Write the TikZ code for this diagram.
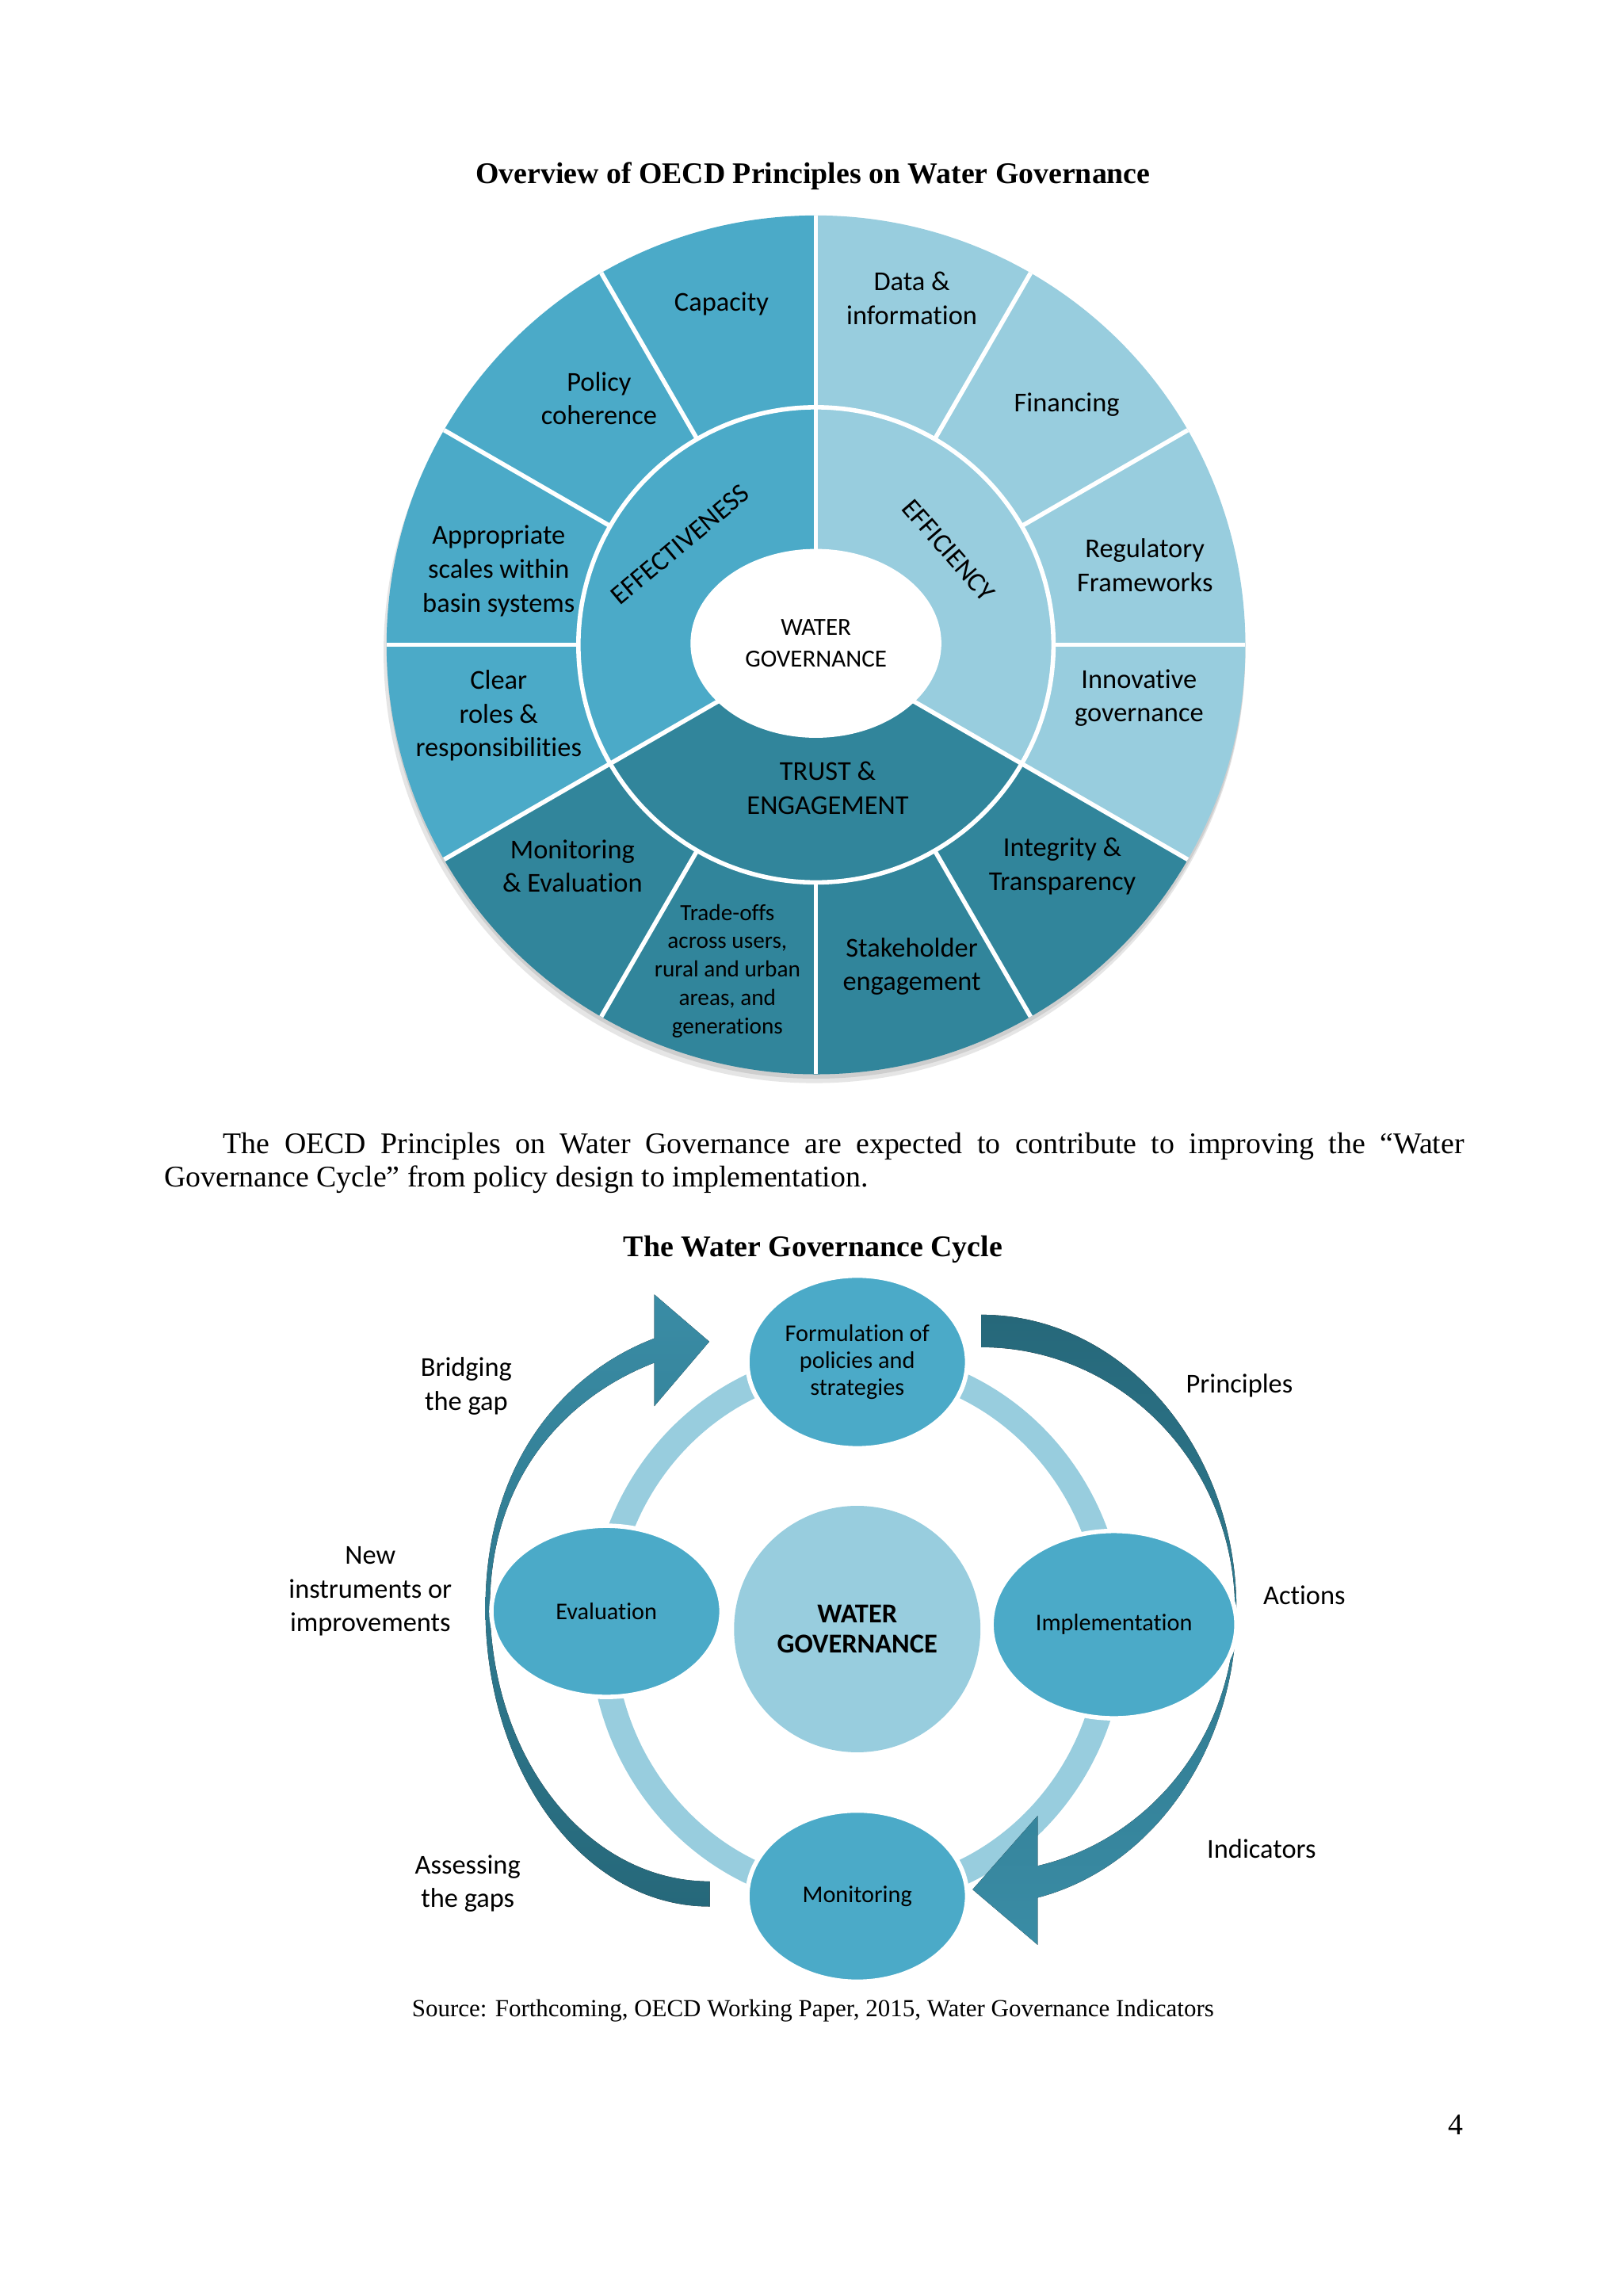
\documentclass[tikz,border=0pt]{standalone}
\usepackage{fontspec}
\setmainfont{Liberation Serif}
\newfontfamily\calib[Ligatures=NoCommon]{Carlito}
\usetikzlibrary{shapes.geometric}
\newdimen\pxu
\pxu=0.54116pt
\definecolor{medblue}{RGB}{75,170,200}
\definecolor{lightblue}{RGB}{152,205,222}
\definecolor{darkteal}{RGB}{49,133,155}
\definecolor{arrdark}{RGB}{38,104,122}
\definecolor{arrlight}{RGB}{58,140,165}
\tikzset{
  sep/.style={white, line width=3*\pxu},
  lab/.style={font=\calib\fontsize{10}{12.4}\selectfont, align=center, inner sep=0pt},
  smalllab/.style={font=\calib\fontsize{8.5}{10.4}\selectfont, align=center, inner sep=0pt},
  cyc/.style={ellipse, fill=medblue, draw=white, line width=3*\pxu, inner sep=0pt, align=center, font=\calib\fontsize{8.8}{9.8}\selectfont},
  bodytext/.style={font=\fontsize{11}{12.6}\selectfont, inner sep=0pt},
  boldtitle/.style={font=\bfseries\fontsize{11}{12.6}\selectfont, inner sep=0pt},
}
\begin{document}
\begin{tikzpicture}[x=0.54116pt,y=-0.54116pt]
\useasboundingbox (0,0) rectangle (1100,1556);
\fill[white] (0,0) rectangle (1100,1556);

% ---------- titles and body text ----------
\node[boldtitle, anchor=base] (title1) at (551,124.5) {Overview of OECD Principles on Water Governance};
\node[bodytext, anchor=base west] (para1) at (151,781.5) {\makebox[841\pxu][s]{The OECD Principles on Water Governance are expected to contribute to improving the “Water}};
\node[bodytext, anchor=base west] (para2) at (111,804.5) {Governance Cycle” from policy design to implementation.};
\node[boldtitle, anchor=base] (title2) at (551,851.5) {The Water Governance Cycle};
\node[font=\fontsize{9}{10.4}\selectfont, inner sep=0pt, anchor=base] (source) at (551,1366.5) {Source: Forthcoming, OECD Working Paper, 2015, Water Governance Indicators};
\node[bodytext, anchor=base east] (pagenum) at (992,1446.5) {4};

% ---------- wheel ----------
\coordinate (W) at (553,437);
\fill[black!40, opacity=0.25] (552,442) circle[radius=292];
\fill[black!40, opacity=0.3] (553,440) circle[radius=291];
\fill[medblue] (W) -- ++(-90:291) arc[start angle=-90, end angle=-210, radius=291] -- cycle;
\fill[darkteal] (W) -- ++(-210:291) arc[start angle=-210, end angle=-330, radius=291] -- cycle;
\fill[lightblue] (W) -- ++(-330:291) arc[start angle=-330, end angle=-450, radius=291] -- cycle;
\foreach \a in {0,30,60,120,150,180,240,270,300}
  \draw[sep] (W) ++(-\a:161) -- ++(-\a:130);
\foreach \a in {90,210,330}
  \draw[sep] (W) -- ++(-\a:291);
\draw[sep] (W) circle[radius=161];
\node[ellipse, fill=white, minimum width=170*\pxu, minimum height=128*\pxu, inner sep=0pt,
      align=center, font=\calib\fontsize{9}{11.4}\selectfont] (wgcore) at (553,436) {WATER\\GOVERNANCE};

\node[lab, rotate=40] (effect) at (461,369) {EFFECTIVENESS};
\node[lab, rotate=-49] (effic) at (643,373) {EFFICIENCY};
\node[lab] (trust) at (561,534) {TRUST \&\\ENGAGEMENT};

\node[lab] (capacity) at (489,206) {Capacity};
\node[lab] (policy) at (406,270) {Policy\\coherence};
\node[lab] (scales) at (338,387) {Appropriate\\scales within\\basin systems};
\node[lab] (roles) at (338,485) {Clear\\roles \&\\responsibilities};
\node[lab] (monev) at (388,587) {Monitoring\\\& Evaluation};
\node[smalllab] (trade) at (493,658) {Trade-offs\\across users,\\rural and urban\\areas, and\\generations};
\node[lab] (stake) at (618,655) {Stakeholder\\engagement};
\node[lab] (integ) at (720,587) {Integrity \&\\Transparency};
\node[lab] (innov) at (772,473) {Innovative\\governance};
\node[lab] (regul) at (776,383) {Regulatory\\Frameworks};
\node[lab] (financ) at (723,274) {Financing};
\node[lab] (data) at (618,202) {Data \&\\information};

% ---------- cycle ----------
\coordinate (C) at (581,1104);
\draw[lightblue, line width=17*\pxu] (C) ellipse[x radius=173, y radius=181];

% right arrow
\fill[top color=arrdark, bottom color=arrlight]
  (665,891) arc[start angle=-90, end angle=77.2, x radius=173, y radius=200]
  -- (703.3,1318) -- (659.2,1280.5) -- (703.3,1230.5) -- (703.3,1264.5)
  arc[start angle=77.13, end angle=-90, x radius=172, y radius=178] -- cycle;
% left arrow
\fill[top color=arrlight, bottom color=arrdark]
  (481,1292) .. controls (395,1292) and (329,1200) .. (329,1090)
  .. controls (329,990) and (383.5,929.8) .. (443.5,907)
  -- (443.5,877.3) -- (480.7,909.2) -- (443.5,952.9) -- (443.5,923.5)
  .. controls (385,946) and (332,1000) .. (332,1090)
  .. controls (334,1195) and (400,1275) .. (481,1275) -- cycle;

\node[ellipse, fill=lightblue, minimum size=167*\pxu, inner sep=0pt, align=center,
      font=\calib\bfseries\fontsize{10}{10.8}\selectfont] (wgc) at (C) {WATER\\GOVERNANCE};
\node[cyc, minimum width=149*\pxu, minimum height=117*\pxu] (form) at (581,923) {Formulation of\\policies and\\strategies};
\node[cyc, minimum width=156*\pxu, minimum height=116*\pxu] (eval) at (411,1092) {Evaluation};
\node[cyc, minimum width=166*\pxu, minimum height=127*\pxu] (impl) at (755,1101) {Implementation};
\node[cyc, minimum width=149*\pxu, minimum height=116*\pxu] (moni) at (581,1285) {Monitoring};

\node[lab] (bridge) at (316,939.5) {Bridging\\the gap};
\node[lab] (princ) at (840,939) {Principles};
\node[lab] (newinst) at (251,1078.5) {New\\instruments or\\improvements};
\node[lab] (actions) at (884,1081) {Actions};
\node[lab] (assess) at (317,1276.5) {Assessing\\the gaps};
\node[lab] (indic) at (855,1253) {Indicators};
\end{tikzpicture}
\end{document}
